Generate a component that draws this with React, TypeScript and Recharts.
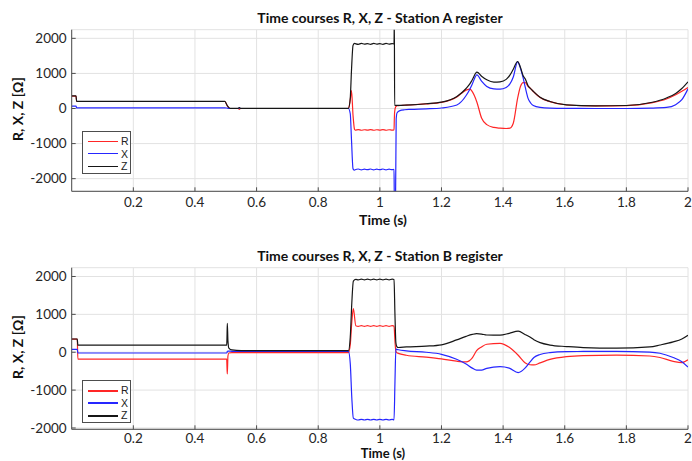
import React from 'react';
import { LineChart, Line, XAxis, YAxis, CartesianGrid } from 'recharts';

// Station A register
const timeA = [
  0, 0.014, 0.016, 0.497, 0.505, 0.514, 0.54, 0.544, 0.548, 0.898,
  0.904, 0.908, 0.913, 0.918, 0.92, 0.93, 0.94, 0.95, 0.96, 0.97,
  0.98, 0.99, 1.0, 1.01, 1.02, 1.03, 1.04, 1.046, 1.047, 1.048,
  1.051, 1.053, 1.056, 1.065, 1.08, 1.1, 1.15, 1.2, 1.25, 1.28,
  1.292, 1.3, 1.315, 1.33, 1.347, 1.37, 1.39, 1.41, 1.422, 1.433,
  1.447, 1.456, 1.465, 1.472, 1.481, 1.49, 1.498, 1.52, 1.552, 1.606,
  1.7, 1.8, 1.88, 1.93, 1.96, 1.98, 2.0,
];
const rA = [
  355, 355, 200, 200, 75, 0, 0, -25, 0, 0,
  250, 510, -200, -600, -615, -600, -620, -605, -615, -600,
  -620, -605, -615, -600, -620, -605, -615, -610, -300, -100,
  40, 60, 80, 85, 92, 100, 130, 175, 330, 525,
  550, 480, 180, -270, -460, -540, -560, -570, -560, -420,
  290, 620, 740, 740, 630, 560, 485, 315, 195, 100,
  72, 82, 160, 270, 390, 490, 600,
];
const xA = [
  65, 65, 20, 20, 10, 0, 0, 20, 0, 0,
  -150, -900, -1720, -1760, -1745, -1725, -1750, -1730, -1745, -1725,
  -1750, -1730, -1745, -1725, -1750, -1730, -1745, -1735, -2600, -2600,
  -2500, -300, -120, -60, -35, -25, -10, 15, 100, 370,
  550, 700, 960, 780, 630, 560, 550, 600, 700, 900,
  1330, 1150, 870, 600, 290, 150, 85, 30, 10, 3,
  0, 0, 10, 30, 110, 250, 560,
];
const zA = [
  360, 360, 205, 205, 80, 5, 5, 25, 5, 5,
  300, 1100, 1800, 1855, 1850, 1830, 1855, 1835, 1850, 1830,
  1855, 1835, 1850, 1830, 1855, 1835, 1850, 1840, 2600, 90,
  90, 90, 88, 90, 95, 103, 135, 180, 343, 570,
  700, 820, 1035, 920, 817, 750, 760, 830, 950, 1120,
  1340, 1180, 930, 840, 650, 560, 490, 320, 200, 105,
  75, 85, 170, 300, 430, 570, 760,
];

// Station B register
const timeB = [
  0, 0.018, 0.02, 0.503, 0.504, 0.505, 0.507, 0.51, 0.52, 0.55,
  0.898, 0.904, 0.909, 0.914, 0.922, 0.93, 0.94, 0.95, 0.96, 0.97,
  0.98, 0.99, 1.0, 1.01, 1.02, 1.03, 1.04, 1.046, 1.049, 1.052,
  1.055, 1.06, 1.086, 1.15, 1.2, 1.249, 1.28, 1.3, 1.314, 1.33,
  1.347, 1.39, 1.42, 1.449, 1.471, 1.487, 1.5, 1.52, 1.552, 1.606,
  1.66, 1.768, 1.876, 1.909, 1.952, 1.98, 2.0,
];
const rB = [
  345, 345, -180, -180, -400, -575, -100, -20, -10, -10,
  -10, 200, 800, 1150, 700, 685, 700, 685, 700, 685,
  700, 685, 700, 685, 700, 685, 700, 690, 300, 30,
  -10, -30, -80, -130, -177, -237, -255, -150, 40, 140,
  210, 235, 130, -80, -275, -330, -335, -280, -190, -116,
  -90, -79, -100, -140, -240, -274, -200,
];
const xB = [
  75, 75, -20, -20, -10, 20, 30, 30, 25, 25,
  20, -300, -1200, -1740, -1775, -1790, -1772, -1790, -1772, -1790,
  -1772, -1790, -1772, -1790, -1772, -1790, -1772, -1785, -800, 90,
  75, 65, 35, 0, -55, -185, -310, -420, -475, -470,
  -425, -380, -420, -538, -420, -260, -140, -60, -10, 16,
  20, 20, 5, -26, -140, -250, -390,
];
const zB = [
  350, 350, 185, 185, 400, 765, 300, 110, 60, 45,
  40, 400, 1300, 1880, 1925, 1910, 1930, 1910, 1930, 1910,
  1930, 1910, 1930, 1910, 1930, 1910, 1930, 1920, 1000, 250,
  150, 125, 140, 160, 195, 325, 420, 470, 490, 480,
  455, 450, 500, 555, 470, 400, 330, 253, 190, 150,
  121, 106, 140, 190, 272, 350, 449,
];

const timeTicks = [0.2, 0.4, 0.6, 0.8, 1, 1.2, 1.4, 1.6, 1.8, 2];
const ohmTicks = [-2000, -1000, 0, 1000, 2000];

const RED = '#ff2626';
const BLUE = '#2626ff';
const BLACK = '#161616';
const FRAME = '#4d4d4d';
const FONT = 'Lato, "Open Sans", sans-serif';

type PanelProps = {
  title: string;
  time: number[];
  r: number[];
  x: number[];
  z: number[];
  yDomain: [number, number];
  top: number;
  height: number;
  plotTop: number;
  plotBottom: number;
  xTickGap: number;
  xLabelTop: number;
  xLabelSize: number;
  legendTop: number;
  legendLine: number;
};

const Panel = ({
  title, time, r, x, z, yDomain, top, height, plotTop, plotBottom,
  xTickGap, xLabelTop, xLabelSize, legendTop, legendLine,
}: PanelProps) => {
  const rows = time.map((t, i) => ({ t, R: r[i], X: x[i], Z: z[i] }));
  const tickStyle = { fontFamily: FONT, fontSize: 13.5, fill: '#262626' };
  const plotMid = (plotTop + plotBottom) / 2;
  const legend = [
    { name: 'R', color: RED },
    { name: 'X', color: BLUE },
    { name: 'Z', color: BLACK },
  ];
  return (
    <div style={{ position: 'absolute', left: 0, top, width: 692, height }}>
      <LineChart
        width={692}
        height={height}
        data={rows}
        margin={{ top: plotTop, right: 4, bottom: height - plotBottom - 30, left: 31.7 }}
      >
        <CartesianGrid stroke="#e2e2e2" strokeWidth={1} />
        <XAxis
          dataKey="t"
          type="number"
          domain={[0, 2]}
          ticks={timeTicks}
          allowDataOverflow
          height={30}
          tick={tickStyle}
          tickSize={-4}
          tickMargin={xTickGap}
          stroke={FRAME}
        />
        <XAxis
          xAxisId="top"
          orientation="top"
          type="number"
          domain={[0, 2]}
          ticks={timeTicks}
          height={0}
          tick={false}
          tickSize={-4}
          stroke={FRAME}
        />
        <YAxis
          type="number"
          domain={yDomain}
          ticks={ohmTicks}
          allowDataOverflow
          width={40}
          tick={tickStyle}
          tickSize={-4}
          tickMargin={9}
          stroke={FRAME}
        />
        <YAxis
          yAxisId="right"
          orientation="right"
          type="number"
          domain={yDomain}
          ticks={ohmTicks}
          width={0}
          tick={false}
          tickSize={-4}
          stroke={FRAME}
        />
        <Line type="monotone" dataKey="R" stroke={RED} strokeWidth={1.2} dot={false} isAnimationActive={false} />
        <Line type="monotone" dataKey="X" stroke={BLUE} strokeWidth={1.2} dot={false} isAnimationActive={false} />
        <Line type="monotone" dataKey="Z" stroke={BLACK} strokeWidth={1.2} dot={false} isAnimationActive={false} />
      </LineChart>
      <div
        style={{
          position: 'absolute', left: 380, top: plotTop - 19, transform: 'translateX(-50%)',
          whiteSpace: 'nowrap', fontFamily: FONT, fontWeight: 700, fontSize: 14, lineHeight: '14px', color: '#111',
        }}
      >
        {title}
      </div>
      <div
        style={{
          position: 'absolute', left: 383, top: xLabelTop, transform: 'translateX(-50%)',
          whiteSpace: 'nowrap', fontFamily: FONT, fontWeight: 700, fontSize: xLabelSize,
          lineHeight: `${xLabelSize}px`, color: '#111',
        }}
      >
        Time (s)
      </div>
      <div
        style={{
          position: 'absolute', left: 18, top: plotMid - 2, transform: 'translate(-50%, -50%) rotate(-90deg)',
          whiteSpace: 'nowrap', fontFamily: FONT, fontWeight: 700, fontSize: 14, lineHeight: '14px', color: '#111',
        }}
      >
        R, X, Z [Ω]
      </div>
      <div
        style={{
          position: 'absolute', left: 82, top: legendTop, width: 49, height: 43,
          border: `1px solid ${FRAME}`, background: '#fff', boxSizing: 'border-box',
        }}
      >
        {legend.map((item, i) => (
          <div key={item.name} style={{ position: 'absolute', left: 5, top: 3 + i * 12.5, height: 12, width: 44 }}>
            <div style={{ position: 'absolute', left: 0, top: 5.5, width: 30, height: legendLine, background: item.color }} />
            <div
              style={{
                position: 'absolute', left: 33, top: 0, fontFamily: '"Liberation Sans", Arial, sans-serif',
                fontSize: 10.5, lineHeight: '12px', color: '#222',
              }}
            >
              {item.name}
            </div>
          </div>
        ))}
      </div>
    </div>
  );
};

export default function App() {
  return (
    <div style={{ position: 'absolute', left: 0, top: 0, width: 692, height: 461, overflow: 'hidden', background: '#fff' }}>
      <Panel
        title="Time courses R, X, Z - Station A register"
        time={timeA}
        r={rA}
        x={xA}
        z={zA}
        yDomain={[-2360, 2246]}
        top={0}
        height={230}
        plotTop={29.7}
        plotBottom={191.3}
        xTickGap={10}
        xLabelTop={213}
        xLabelSize={14}
        legendTop={131}
        legendLine={1.3}
      />
      <Panel
        title="Time courses R, X, Z - Station B register"
        time={timeB}
        r={rB}
        x={xB}
        z={zB}
        yDomain={[-2035, 2232]}
        top={230}
        height={231}
        plotTop={37.7}
        plotBottom={199.3}
        xTickGap={8}
        xLabelTop={217}
        xLabelSize={13}
        legendTop={150}
        legendLine={2}
      />
    </div>
  );
}
